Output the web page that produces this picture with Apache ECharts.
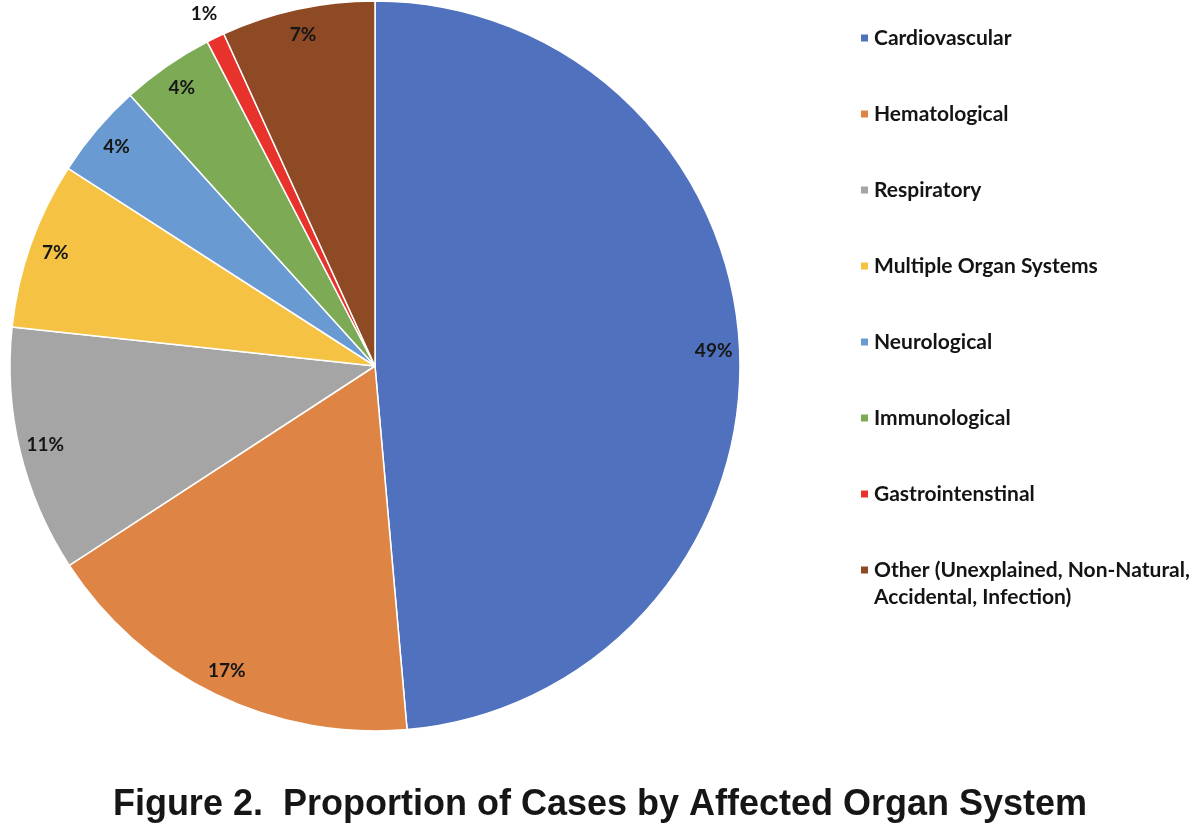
<!DOCTYPE html>
<html>
<head>
<meta charset="utf-8">
<script src="https://cdn.jsdelivr.net/npm/echarts@6/dist/echarts.min.js"></script>
<style>
  html, body { margin: 0; padding: 0; background: #fff; }
  #chart { width: 1200px; height: 834px; }
</style>
</head>
<body>
<div id="chart"></div>
<script>
// 数据
const categories = [
  'Cardiovascular',
  'Hematological',
  'Respiratory',
  'Multiple Organ Systems',
  'Neurological',
  'Immunological',
  'Gastrointenstinal',
  'Other (Unexplained, Non-Natural,\nAccidental, Infection)'
];
const shares = [48.6, 17.2, 10.9, 7.4, 4.2, 4.1, 0.8, 6.8];
const colors = ['#5071be', '#de8444', '#a5a5a5', '#f5c244', '#6a9ad2', '#7caa55', '#e8322c', '#8e4a25'];

const chart = echarts.init(document.getElementById('chart'));
const center = [375, 366];
const R = 365;

const labelFont = {
  fontFamily: 'Lato',
  fontWeight: 'bold',
  fontSize: 19,
  color: '#161616'
};
const pct = p => Math.round(p.value) + '%';

const pieData = categories.map((name, i) => ({
  name,
  value: shares[i],
  itemStyle: { color: colors[i] }
}));

// 透明环: 大扇区标签放在内侧, 小扇区标签放在外侧
const innerLabels = categories.map((name, i) => ({
  name, value: shares[i], label: { show: shares[i] >= 2 }
}));
const outerLabels = categories.map((name, i) => ({
  name, value: shares[i], label: { show: shares[i] < 2 }
}));

// 图例最后一项分两行, 第二行单独放
const lastParts = categories[categories.length - 1].split('\n');

chart.setOption({
  color: colors,
  title: {
    text: 'Figure 2.  Proportion of Cases by Affected Organ System',
    left: 'center',
    top: 782,
    textStyle: {
      fontFamily: 'Liberation Sans',
      fontWeight: 'bold',
      fontSize: 36,
      color: '#161616'
    }
  },
  legend: {
    orient: 'vertical',
    left: 854,
    top: 21,
    itemWidth: 9,
    itemHeight: 9,
    itemGap: 52,
    icon: 'rect',
    selectedMode: false,
    formatter: name => name.split('\n')[0],
    textStyle: {
      fontFamily: 'Lato',
      fontWeight: 'bold',
      fontSize: 21,
      lineHeight: 24,
      color: '#141414'
    }
  },
  graphic: [
    {
      type: 'text',
      left: 874,
      top: 587,
      style: {
        text: lastParts[1],
        font: 'bold 21px Lato',
        fill: '#141414'
      }
    }
  ],
  series: [
    {
      type: 'pie',
      center,
      radius: [0, R],
      startAngle: 90,
      silent: true,
      label: { show: false },
      labelLine: { show: false },
      itemStyle: { borderColor: '#fff', borderWidth: 1.5 },
      data: pieData
    },
    {
      type: 'pie',
      center,
      radius: [307, R],
      startAngle: 90,
      silent: true,
      legendHoverLink: false,
      itemStyle: { color: 'rgba(0,0,0,0)' },
      label: Object.assign({ position: 'inside', formatter: pct }, labelFont),
      labelLine: { show: false },
      data: innerLabels
    },
    {
      type: 'pie',
      center,
      radius: [372, 404],
      startAngle: 90,
      silent: true,
      legendHoverLink: false,
      itemStyle: { color: 'rgba(0,0,0,0)' },
      label: Object.assign({ position: 'inside', formatter: pct }, labelFont),
      labelLine: { show: false },
      data: outerLabels
    }
  ]
});
</script>
</body>
</html>
